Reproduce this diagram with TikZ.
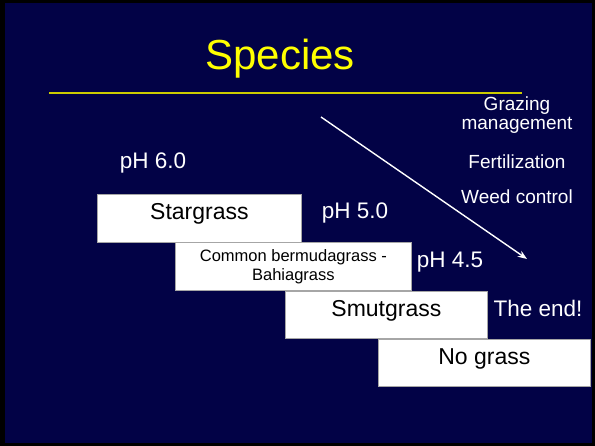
\documentclass[tikz,border=0pt]{standalone}
\usepackage{fontspec}
\setmainfont{Liberation Sans}
\definecolor{slidenavy}{RGB}{2,2,70}
\definecolor{titleyellow}{RGB}{255,255,0}
\definecolor{ruleolive}{RGB}{204,204,0}
\usetikzlibrary{arrows.meta,positioning}

\begin{document}
\begin{tikzpicture}[
    x=1pt, y=-1pt,
    grassbox/.style={rectangle, draw=gray!70, line width=0.8pt, fill=white,
                     anchor=north west, inner sep=0pt, text=black},
    onegrass/.style={grassbox, font=\fontsize{23}{26}\selectfont,
                     text height=17, text depth=14},
    phlabel/.style={font=\fontsize{22.5}{25}\selectfont, text=white},
    steplabel/.style={font=\fontsize{19}{21}\selectfont, text=white, align=center},
    >=Stealth
  ]
    % Slide background
    \fill[black] (0,0) rectangle (595,446);
    \fill[slidenavy] (5,3) rectangle (592,443);
    \useasboundingbox (0,0) rectangle (595,446);

    % Title
    \node[font=\fontsize{42}{46}\selectfont, text=titleyellow, anchor=base] (title) at (280,70) {Species};
    \fill[ruleolive] (49,92.4) rectangle (522,93.6);

    % Grass boxes, stepping down
    \node[onegrass, minimum width=204, minimum height=48] (star) at (97,194) {Stargrass};
    \node[grassbox, minimum width=236, minimum height=48, align=center,
          font=\fontsize{16.5}{19}\selectfont] (common) at (175,242)
      {Common bermudagrass -\\Bahiagrass};
    \node[onegrass, minimum width=202, minimum height=47] (smut) at (285,291) {Smutgrass};
    \node[onegrass, minimum width=212, minimum height=47] (none) at (378,339) {No grass};

    % pH steps
    \node[phlabel] (ph60) at (153,163) {pH 6.0};
    \node[phlabel] (ph50) at (355,213) {pH 5.0};
    \node[phlabel] (ph45) at (450,262) {pH 4.5};
    \node[phlabel] (theend) at (538,308) {The end!};

    % Management practices
    \node[steplabel] (grazing) at (517,115) {Grazing\\[-2pt]management};
    \node[steplabel] (fert) at (517,162) {Fertilization};
    \node[steplabel] (weed) at (517,197) {Weed control};

    \coordinate (arrstart) at (321,117);
    \coordinate (arrend) at (527,259);
    \draw[->, white, line width=1.4pt] (arrstart) -- (arrend);
\end{tikzpicture}
\end{document}
